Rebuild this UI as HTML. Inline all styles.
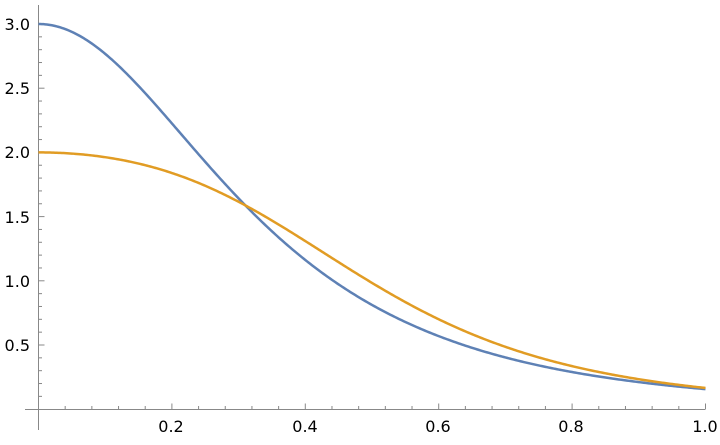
<!DOCTYPE html>
<html><head><style>body{margin:0;background:#fff}svg text{font-family:"DejaVu Sans","Liberation Sans",sans-serif;font-size:16px;fill:#000}</style></head>
<body>
<svg id="s" width="720" height="440" xmlns="http://www.w3.org/2000/svg">
<g stroke="#888" stroke-width="1" fill="none" id="ax">
<line x1="25" y1="409.5" x2="705" y2="409.5"/>
<line x1="38.5" y1="5" x2="38.5" y2="430"/>
</g>
<g id="lab">
<text x="171" y="432" text-anchor="middle">0.2</text>
<text x="305" y="432" text-anchor="middle">0.4</text>
<text x="438" y="432" text-anchor="middle">0.6</text>
<text x="571" y="432" text-anchor="middle">0.8</text>
<text x="705" y="432" text-anchor="middle">1.0</text>
<text x="30" y="351" text-anchor="end">0.5</text>
<text x="30" y="287" text-anchor="end">1.0</text>
<text x="30" y="223" text-anchor="end">1.5</text>
<text x="30" y="158" text-anchor="end">2.0</text>
<text x="30" y="94" text-anchor="end">2.5</text>
<text x="30" y="30" text-anchor="end">3.0</text>
</g>
<path id="b" fill="none" stroke="#5e81b5" stroke-width="2.5"/>
<path id="o" fill="none" stroke="#e19c24" stroke-width="2.5"/>
</svg>
<script>
var X0=38.5,XS=667,Y0=409.2,YS=128.4,ax=document.getElementById('ax'),ns='http://www.w3.org/2000/svg';
function ln(x1,y1,x2,y2){var l=document.createElementNS(ns,'line');l.setAttribute('x1',x1);l.setAttribute('y1',y1);l.setAttribute('x2',x2);l.setAttribute('y2',y2);ax.appendChild(l);}
for(var i=1;i<=25;i++){var x=X0+XS*i*0.04;var maj=i%5==0;ln(x,409.5,x,409.5-(maj?6:3.5));}
for(var i=1;i<=30;i++){var y=Y0-YS*i*0.1;var maj=i%5==0;ln(38.5,y,38.5+(maj?6:3.5),y);}
function fb(x){var u=x*x;return 3/(1+8.3*u+9.9*u*u);}
function fo(x){var u=x*x;return 2/(1+1.81*u+9.29*u*u);}
function P(f){var d='';for(var i=0;i<=400;i++){var x=i/400;d+=(i?'L':'M')+(X0+XS*x).toFixed(2)+','+(Y0-YS*f(x)).toFixed(2);}return d;}
document.getElementById('b').setAttribute('d',P(fb));
document.getElementById('o').setAttribute('d',P(fo));
</script>
</body></html>
